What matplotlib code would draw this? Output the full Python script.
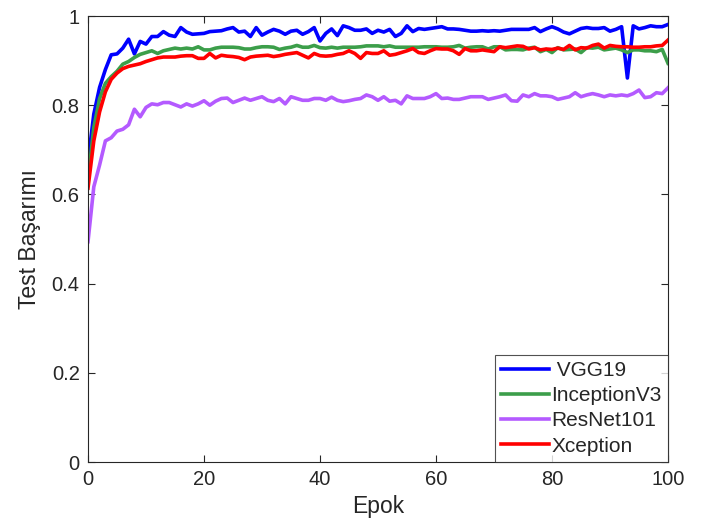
import matplotlib
matplotlib.use("Agg")
import matplotlib.pyplot as plt
import numpy as np

epochs = list(range(0, 101))

vgg19 = [0.673, 0.78, 0.84, 0.88, 0.913, 0.915, 0.928, 0.948, 0.915, 0.943,
         0.937, 0.954, 0.954, 0.965, 0.957, 0.954, 0.974, 0.964, 0.959, 0.960,
         0.961, 0.965, 0.966, 0.967, 0.971, 0.974, 0.964, 0.966, 0.954, 0.974,
         0.957, 0.964, 0.970, 0.966, 0.959, 0.966, 0.968, 0.959, 0.965, 0.974,
         0.944, 0.961, 0.971, 0.956, 0.978, 0.974, 0.968, 0.968, 0.971, 0.961,
         0.968, 0.964, 0.970, 0.954, 0.961, 0.978, 0.965, 0.972, 0.970, 0.972,
         0.974, 0.976, 0.971, 0.971, 0.970, 0.968, 0.966, 0.966, 0.967, 0.966,
         0.967, 0.966, 0.968, 0.970, 0.970, 0.970, 0.970, 0.974, 0.965, 0.971,
         0.976, 0.971, 0.964, 0.960, 0.966, 0.972, 0.974, 0.972, 0.972, 0.974,
         0.966, 0.970, 0.976, 0.861, 0.978, 0.971, 0.974, 0.978, 0.976, 0.976,
         0.981]

inception_v3 = [0.632, 0.75, 0.815, 0.849, 0.864, 0.876, 0.892, 0.898, 0.907, 0.914,
                0.918, 0.922, 0.916, 0.922, 0.925, 0.928, 0.926, 0.928, 0.926, 0.931,
                0.924, 0.924, 0.928, 0.930, 0.930, 0.930, 0.929, 0.926, 0.926, 0.929,
                0.931, 0.931, 0.930, 0.925, 0.928, 0.930, 0.934, 0.930, 0.930, 0.934,
                0.929, 0.928, 0.930, 0.928, 0.930, 0.930, 0.930, 0.931, 0.933, 0.933,
                0.933, 0.931, 0.933, 0.930, 0.930, 0.930, 0.930, 0.930, 0.931, 0.931,
                0.931, 0.930, 0.930, 0.931, 0.934, 0.928, 0.930, 0.931, 0.931, 0.926,
                0.931, 0.931, 0.924, 0.925, 0.925, 0.924, 0.928, 0.930, 0.920, 0.925,
                0.918, 0.929, 0.924, 0.925, 0.926, 0.918, 0.929, 0.928, 0.930, 0.924,
                0.926, 0.928, 0.924, 0.918, 0.924, 0.924, 0.922, 0.922, 0.920, 0.925,
                0.894]

resnet101 = [0.494, 0.617, 0.666, 0.720, 0.727, 0.742, 0.746, 0.756, 0.791, 0.774,
             0.795, 0.803, 0.801, 0.806, 0.806, 0.801, 0.796, 0.803, 0.798, 0.803,
             0.810, 0.800, 0.809, 0.815, 0.816, 0.806, 0.811, 0.816, 0.811, 0.815,
             0.819, 0.811, 0.808, 0.815, 0.803, 0.819, 0.815, 0.811, 0.811, 0.815,
             0.815, 0.811, 0.818, 0.811, 0.808, 0.810, 0.813, 0.815, 0.823, 0.819,
             0.811, 0.819, 0.809, 0.811, 0.803, 0.821, 0.815, 0.815, 0.815, 0.819,
             0.826, 0.815, 0.816, 0.813, 0.813, 0.816, 0.819, 0.819, 0.819, 0.813,
             0.816, 0.819, 0.823, 0.810, 0.809, 0.823, 0.819, 0.826, 0.821, 0.821,
             0.819, 0.813, 0.816, 0.819, 0.828, 0.819, 0.823, 0.826, 0.823, 0.819,
             0.823, 0.821, 0.823, 0.821, 0.826, 0.834, 0.817, 0.819, 0.828, 0.826,
             0.839]

xception = [0.614, 0.72, 0.785, 0.83, 0.858, 0.872, 0.882, 0.887, 0.890, 0.893,
            0.898, 0.902, 0.906, 0.908, 0.908, 0.908, 0.910, 0.911, 0.911, 0.905,
            0.905, 0.916, 0.906, 0.912, 0.910, 0.909, 0.907, 0.902, 0.908, 0.910,
            0.911, 0.912, 0.909, 0.911, 0.914, 0.916, 0.918, 0.912, 0.906, 0.916,
            0.911, 0.910, 0.911, 0.914, 0.916, 0.922, 0.916, 0.905, 0.918, 0.916,
            0.916, 0.922, 0.912, 0.914, 0.918, 0.922, 0.927, 0.918, 0.916, 0.922,
            0.927, 0.926, 0.926, 0.922, 0.914, 0.927, 0.922, 0.922, 0.924, 0.922,
            0.920, 0.931, 0.929, 0.931, 0.933, 0.932, 0.926, 0.929, 0.924, 0.926,
            0.925, 0.928, 0.925, 0.934, 0.924, 0.929, 0.928, 0.934, 0.937, 0.928,
            0.934, 0.932, 0.931, 0.931, 0.930, 0.930, 0.931, 0.931, 0.933, 0.934,
            0.946]

series_names = [" VGG19", "InceptionV3", "ResNet101", "Xception"]
series_values = [vgg19, inception_v3, resnet101, xception]
series_colors = ["#0000FF", "#3C9E4A", "#B45AFF", "#FF0000"]

xticks = [0, 20, 40, 60, 80, 100]
yticks = [0, 0.2, 0.4, 0.6, 0.8, 1.0]
ytick_labels = ["0", "0.2", "0.4", "0.6", "0.8", "1"]

plt.rcParams['font.family'] = ['Liberation Sans', 'DejaVu Sans']
txt = "#262626"

fig = plt.figure(figsize=(7.05, 5.32), dpi=100)
ax = fig.add_axes([88/705, 70/532, 580/705, 446/532])

for name, vals, col in zip(series_names, series_values, series_colors):
    ax.plot(epochs, vals, color=col, lw=2.6, label=name)

ax.set_xlim(0, 100)
ax.set_ylim(0, 1)
ax.set_xticks(xticks)
ax.set_xticklabels([str(v) for v in xticks])
ax.set_yticks(yticks)
ax.set_yticklabels(ytick_labels)
ax.tick_params(direction='in', top=True, right=True, length=5, width=0.8,
               labelsize=14.5, colors=txt, pad=6)
for sp in ax.spines.values():
    sp.set_color(txt)
    sp.set_linewidth(0.8)

ax.set_xlabel("Epok", fontsize=16.5, color=txt, labelpad=4)
ax.set_ylabel("Test Başarımı", fontsize=16.5, color=txt, labelpad=8)

leg = ax.legend(loc='lower right', fontsize=15, frameon=True, fancybox=False,
                borderaxespad=0, handlelength=2.3, handletextpad=0.1,
                labelspacing=0.3, borderpad=0.3)
leg.get_frame().set_edgecolor(txt)
leg.get_frame().set_linewidth(0.8)
for t in leg.get_texts():
    t.set_color(txt)

fig.savefig("out.png", dpi=100)
